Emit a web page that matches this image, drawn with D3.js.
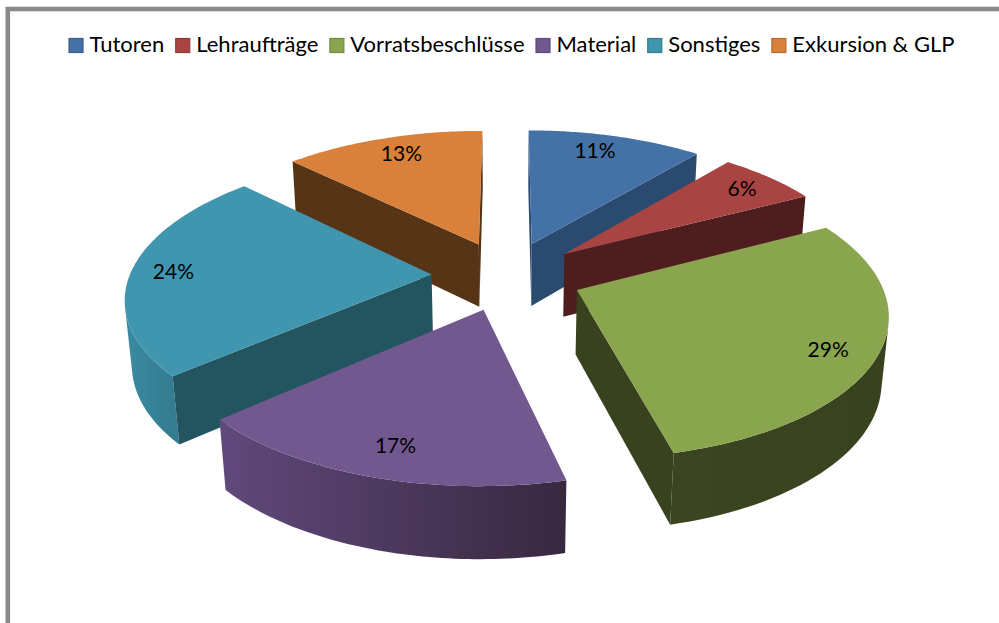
<!DOCTYPE html>
<html>
<head>
<meta charset="utf-8">
<script src="https://cdn.jsdelivr.net/npm/d3@7"></script>
<style>
  body { margin: 0; background: #fff; overflow: hidden; }
  text { font-family: Lato, "Open Sans", sans-serif; fill: #000; }
</style>
</head>
<body>
<div id="chart"></div>
<script>
var categories = ['Tutoren', 'Lehraufträge', 'Vorratsbeschlüsse', 'Material', 'Sonstiges', 'Exkursion & GLP'];
var shares = [11.0, 6.3, 28.9, 17.3, 23.9, 12.6];
var shareLabels = ['11%', '6%', '29%', '17%', '24%', '13%'];

var topColors = ['#4472a6', '#a84442', '#89a54e', '#71588f', '#4096ae', '#d9803b'];
var cutColors = ['#2b4a70', '#4e1e1e', '#38421e', '#38283f', '#235561', '#583417'];
var rimLeftColors = ['#2b4a70', '#4e1e1e', '#3b4520', '#60497c', '#3a8ba3', '#583417'];
var rimRightColors = ['#2b4a70', '#4e1e1e', '#38421e', '#38283f', '#337a8e', '#583417'];

// best-fit shift of each share label, in pixels
var labelShiftX = [-8, 5, 3, 4, -9, 4];
var labelShiftY = [-2, -1, 8, 2, 1, -1];

var width = 999, height = 623;

// camera and pie shape, fitted by eye
var cx = 507, cy = 275.5, scale = 302;
var tilt = Math.asin(0.46), camera = 6;
var explode = 0.25, thick = 0.242, labelAt = 0.83;

function project(u, v, z) {
    var w = v * Math.cos(tilt) + z * Math.sin(tilt);
    var p = camera / (camera - w);
    return [cx + scale * u * p, cy + scale * (v * Math.sin(tilt) - z * Math.cos(tilt)) * p];
}

function area(pts) {
    var sum = 0;
    pts.forEach(function(q, i) {
        var n = pts[(i + 1) % pts.length];
        sum += q[0] * n[1] - n[0] * q[1];
    });
    return sum;
}

var svg = d3.select('#chart').append('svg')
    .attr('width', width)
    .attr('height', height);
var defs = svg.append('defs');

svg.append('rect')
    .attr('x', 7.8).attr('y', 9)
    .attr('width', width + 40).attr('height', height + 40)
    .attr('fill', 'none')
    .attr('stroke', '#8a8a8a')
    .attr('stroke-width', 4.6);

var line = d3.line();
var pie = d3.pie().sort(null).value(function(d) { return d; });
var slices = pie(shares);

function pointAt(d, a, r, z) {
    var mid = (d.startAngle + d.endAngle) / 2;
    var u = explode * Math.sin(mid) + r * Math.sin(a);
    var v = -explode * Math.cos(mid) - r * Math.cos(a);
    return project(u, v, z);
}

// far slices first so the near ones paint over their walls
var order = slices.slice().sort(function(a, b) {
    return pointAt(a, 0, 0, 0)[1] - pointAt(b, 0, 0, 0)[1];
});

order.forEach(function(d) {
    var i = d.index;
    var g = svg.append('g').attr('class', 'slice');
    var steps = d3.range(0, 61).map(function(k) {
        return d.startAngle + (d.endAngle - d.startAngle) * k / 60;
    });
    var topRim = steps.map(function(a) { return pointAt(d, a, 1, 0); });
    var lowRim = steps.map(function(a) { return pointAt(d, a, 1, -thick); });
    var apexTop = pointAt(d, 0, 0, 0), apexLow = pointAt(d, 0, 0, -thick);

    var grad = defs.append('linearGradient').attr('id', 'rim' + i);
    grad.append('stop').attr('offset', 0).attr('stop-color', rimLeftColors[i]);
    grad.append('stop').attr('offset', 1).attr('stop-color', rimRightColors[i]);

    // outer wall, only the part facing the camera
    var front = [], back = [];
    for (var k = 0; k < 60; k++) {
        if (area([topRim[k], topRim[k + 1], lowRim[k + 1], lowRim[k]]) < 0) {
            if (!front.length) { front.push(topRim[k]); back.push(lowRim[k]); }
            front.push(topRim[k + 1]);
            back.push(lowRim[k + 1]);
        }
    }
    if (front.length) {
        g.append('path')
            .attr('d', line(front.concat(back.reverse())) + 'Z')
            .attr('fill', 'url(#rim' + i + ')');
    }

    var startCut = [apexTop, topRim[0], lowRim[0], apexLow];
    var endCut = [apexTop, topRim[60], lowRim[60], apexLow];
    if (area(startCut) < 0) {
        g.append('path').attr('d', line(startCut) + 'Z').attr('fill', cutColors[i]);
    }
    if (area(endCut) > 0) {
        g.append('path').attr('d', line(endCut) + 'Z').attr('fill', cutColors[i]);
    }

    g.append('path')
        .attr('d', line([apexTop].concat(topRim)) + 'Z')
        .attr('fill', topColors[i]);
});

// labels on top so no slice can cover them
svg.selectAll('.share')
    .data(slices)
  .enter().append('text')
    .attr('class', 'share')
    .attr('text-anchor', 'middle')
    .attr('font-size', 21)
    .attr('x', function(d) {
        return pointAt(d, (d.startAngle + d.endAngle) / 2, labelAt, 0)[0] + labelShiftX[d.index];
    })
    .attr('y', function(d) {
        return pointAt(d, (d.startAngle + d.endAngle) / 2, labelAt, 0)[1] + 7 + labelShiftY[d.index];
    })
    .text(function(d) { return shareLabels[d.index]; });

// legend, laid out from the measured text
var legend = svg.append('g').attr('class', 'legend');
var legendX = 0;
categories.forEach(function(name, i) {
    legend.append('rect')
        .attr('x', legendX + 0.5).attr('y', 38.5)
        .attr('width', 14).attr('height', 14)
        .attr('fill', topColors[i])
        .attr('stroke', d3.color(topColors[i]).darker(0.5))
        .attr('stroke-width', 1.2);
    var label = legend.append('text')
        .attr('x', legendX + 21).attr('y', 52)
        .attr('font-size', 22)
        .text(name);
    legendX += 21 + label.node().getComputedTextLength() + 11;
});
legend.attr('transform', 'translate(' + (511.5 - (legendX - 11) / 2) + ',0)');
</script>
</body>
</html>
